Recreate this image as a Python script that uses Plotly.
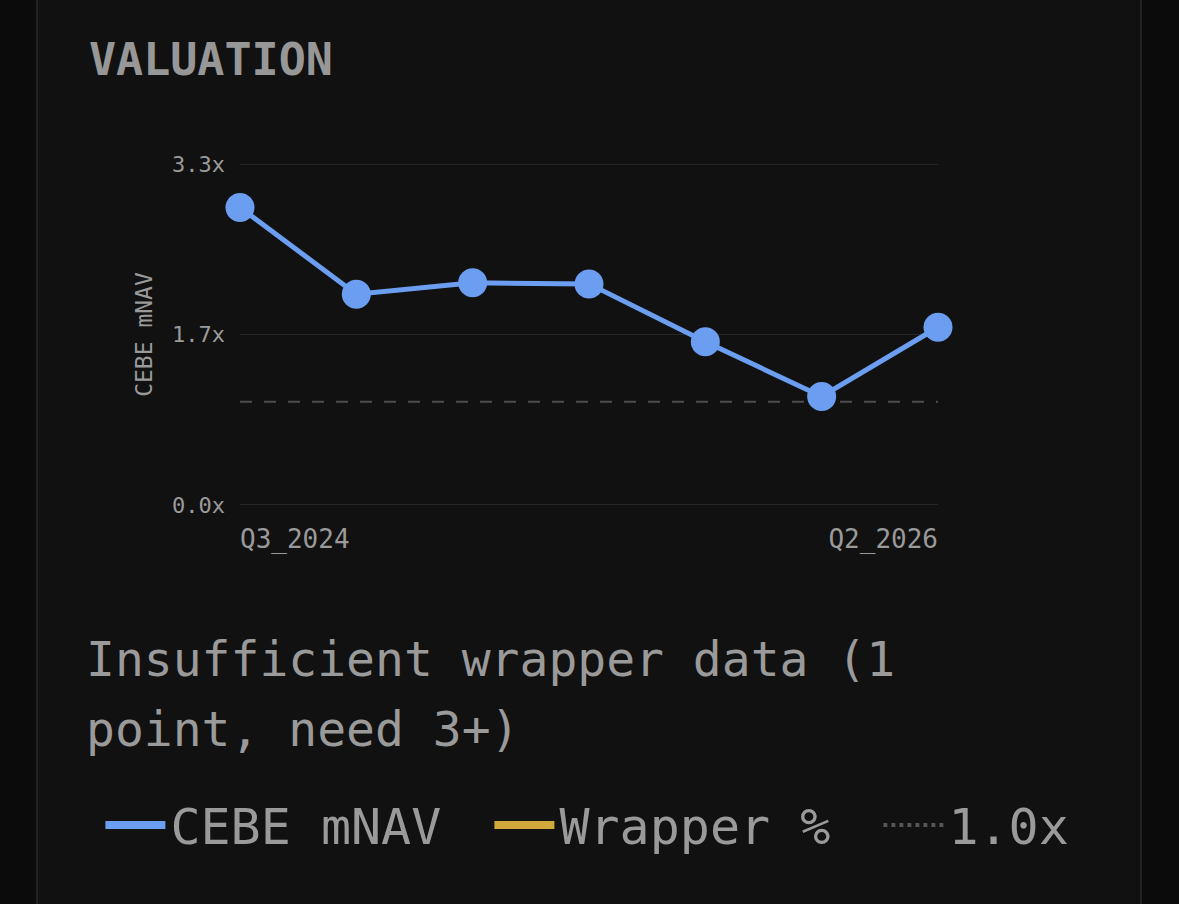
import plotly.graph_objects as go

# quarterly CEBE mNAV readings
quarters = ['Q3_2024', 'Q4_2024', 'Q1_2025', 'Q2_2025', 'Q3_2025', 'Q1_2026', 'Q2_2026']
mnav = [2.88, 2.04, 2.15, 2.14, 1.58, 1.05, 1.72]
wrapper_pct = [None]  # only 1 point, not drawn
ref_level = 1.0
y_ticks = [0.0, 1.65, 3.3]
y_tick_text = ['0.0x', '1.7x', '3.3x']
edge_ticks = [quarters[0], quarters[-1]]

FONT = 'DejaVu Sans Mono'
BLUE = '#6b9ef0'
GOLD = '#d2a73c'
GREY_TXT = '#9a9a9a'

fig = go.Figure()

# plotted marks (legend handled by the dummy entries below)
fig.add_trace(go.Scatter(
    x=[quarters[0], quarters[-1]], y=[ref_level, ref_level],
    mode='lines', showlegend=False,
    line=dict(color='#4d4d4d', width=2, dash='12px,12px'),
    hoverinfo='skip',
))
fig.add_trace(go.Scatter(
    x=quarters, y=mnav,
    mode='lines+markers', showlegend=False,
    line=dict(color=BLUE, width=5),
    marker=dict(size=29, color=BLUE),
    cliponaxis=False,
))

# legend entries
fig.add_trace(go.Scatter(x=[quarters[0]], y=[None], mode='lines', name='CEBE mNAV',
                         line=dict(color=BLUE, width=8), legendrank=1))
fig.add_trace(go.Scatter(x=[quarters[0]], y=wrapper_pct, mode='lines', name='Wrapper %',
                         line=dict(color=GOLD, width=8), legendrank=2))
fig.add_trace(go.Scatter(x=[quarters[0]], y=[None], mode='lines', name='1.0x',
                         line=dict(color='#555555', width=4, dash='dot'), legend='legend2'))

# second x axis carries the right-aligned last label
fig.add_trace(go.Scatter(x=[quarters[-1]], y=[None], xaxis='x2', showlegend=False, hoverinfo='skip'))

legend_common = dict(
    orientation='h', xanchor='left', y=-0.93, yanchor='middle',
    font=dict(size=50, color=GREY_TXT), bgcolor='rgba(0,0,0,0)', itemwidth=60,
)

fig.update_layout(
    width=1179, height=904,
    margin=dict(l=240, r=241, t=163, b=398, autoexpand=False),
    paper_bgcolor='#0b0b0b',
    plot_bgcolor='rgba(0,0,0,0)',
    font=dict(family=FONT, color=GREY_TXT),
    showlegend=True,
    legend=dict(legend_common, x=-0.2, entrywidth=314),
    legend2=dict(legend_common, x=-0.2 + 778 / 698),
    xaxis=dict(
        type='category', categoryorder='array', categoryarray=quarters,
        range=[0, len(quarters) - 1], showgrid=False, zeroline=False,
        tickvals=[edge_ticks[0]], ticklabelposition='outside right',
        tickfont=dict(size=26, color=GREY_TXT), ticks='', ticklabelstandoff=15,
    ),
    xaxis2=dict(
        type='category', categoryorder='array', categoryarray=quarters,
        range=[0, len(quarters) - 1], overlaying='x', side='bottom',
        showgrid=False, zeroline=False,
        tickvals=[edge_ticks[1]], ticklabelposition='outside left',
        tickfont=dict(size=26, color=GREY_TXT), ticks='', ticklabelstandoff=15,
    ),
    yaxis=dict(
        range=[-0.01, 3.31], tickvals=y_ticks, ticktext=y_tick_text,
        showgrid=True, gridcolor='#262626', gridwidth=1, zeroline=False,
        tickfont=dict(size=22, color=GREY_TXT), ticklabelstandoff=14,
        title=dict(text='CEBE mNAV', font=dict(size=23, color=GREY_TXT), standoff=12),
    ),
)

# card panel
fig.add_shape(type='rect', xref='paper', yref='paper', layer='below',
              x0=-203 / 698, x1=1141 / 698 - 240 / 698, y0=-1.2, y1=1.6,
              fillcolor='#111111', line=dict(color='#222222', width=2))

fig.add_annotation(text='<b>VALUATION</b>', xref='paper', yref='paper',
                   x=-153 / 698, y=1 + 104 / 343, xanchor='left', yanchor='middle',
                   showarrow=False, font=dict(size=45, color='#979797', family=FONT))
fig.add_annotation(text='Insufficient wrapper data (1', xref='paper', yref='paper',
                   x=-156 / 698, y=-153 / 343, xanchor='left', yanchor='middle',
                   showarrow=False, font=dict(size=48, color=GREY_TXT, family=FONT))
fig.add_annotation(text='point, need 3+)', xref='paper', yref='paper',
                   x=-156 / 698, y=-223 / 343, xanchor='left', yanchor='middle',
                   showarrow=False, font=dict(size=48, color=GREY_TXT, family=FONT))

fig.write_html("out.html", config={'displayModeBar': False},
               post_script="document.body.style.margin='0';")
